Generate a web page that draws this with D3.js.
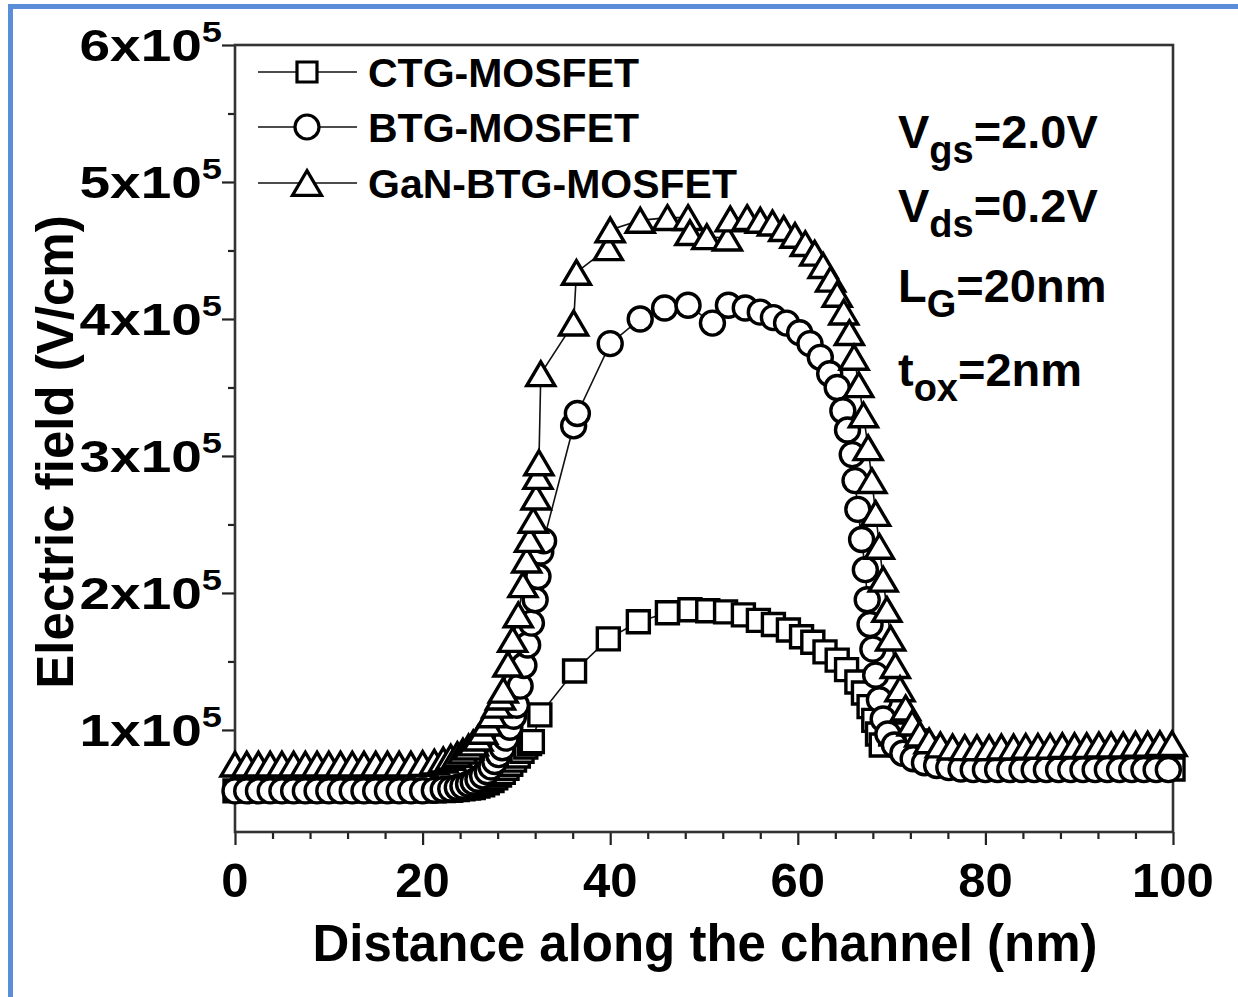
<!DOCTYPE html>
<html>
<head>
<meta charset="utf-8">
<script src="https://cdn.jsdelivr.net/npm/d3@7"></script>
<style>
  body { margin: 0; background: #fff; }
  svg { display: block; }
  text { font-family: "Liberation Sans", Arial, Helvetica, sans-serif; font-weight: bold; fill: #000; }
</style>
</head>
<body>
<svg id="chart" width="1238" height="997"></svg>
<script>
// Electric field along the channel, in units of 1e5 V/cm, versus distance (nm)

const ctgX = [0, 1.25, 2.5, 3.75, 5, 6.25, 7.5, 8.75, 10, 11.25, 12.5, 13.75, 15, 16.25, 17.5, 18.75, 20,
  21.25, 22.2, 23, 23.7, 24.3, 24.9, 25.4, 25.9, 26.4, 26.9, 27.4, 27.8, 28.2, 28.6, 29, 29.4, 29.8, 30.2, 30.6, 31, 31.4, 31.7,
  32.5, 36.2, 39.8, 43.0, 46.1, 48.5, 50.4, 52.3, 54.2, 55.8, 57.4, 59.0, 60.4, 61.6, 62.9, 64.2,
  65.2, 66.3, 67.0, 67.6, 68.1, 68.5, 68.9, 69.9, 71.3, 72.6, 74.0, 75.3, 76.6, 78.0, 79.3,
  80.6, 81.9, 83.2, 84.5, 85.8, 87.1, 88.4, 89.7, 91.0, 92.3, 93.6, 94.9, 96.2, 97.5, 98.8, 100];
const ctgY = [0.555, 0.555, 0.555, 0.555, 0.555, 0.555, 0.555, 0.555, 0.555, 0.555, 0.555, 0.555, 0.555, 0.555, 0.555, 0.555, 0.555,
  0.555, 0.557, 0.56, 0.565, 0.57, 0.575, 0.58, 0.59, 0.60, 0.615, 0.63, 0.65, 0.67, 0.69, 0.72, 0.75, 0.78, 0.81, 0.845, 0.875, 0.90, 0.915,
  1.11, 1.43, 1.665, 1.79, 1.855, 1.877, 1.87, 1.862, 1.84, 1.80, 1.77, 1.73, 1.68, 1.64, 1.57, 1.51,
  1.44, 1.35, 1.27, 1.17, 1.07, 0.97, 0.89, 0.97, 0.97, 0.92, 0.86, 0.81, 0.77, 0.745, 0.73,
  0.72, 0.715, 0.715, 0.715, 0.715, 0.715, 0.715, 0.715, 0.715, 0.715, 0.715, 0.715, 0.715, 0.715, 0.715, 0.715];

const btgX = [0, 1.25, 2.5, 3.75, 5, 6.25, 7.5, 8.75, 10, 11.25, 12.5, 13.75, 15, 16.25, 17.5, 18.75, 20,
  21.25, 22.2, 23, 23.7, 24.3, 24.9, 25.4, 25.9, 26.4, 26.9, 27.3, 27.7, 28.1, 28.5, 28.9, 29.3, 29.7, 30, 30.4, 30.8, 31.2, 31.6, 32, 32.3, 32.6, 32.9,
  36.1, 36.5, 40.0, 43.2, 45.8, 48.3, 50.9, 52.6, 54.4, 56.0, 57.4, 58.8, 60.2, 61.3, 62.4, 63.4, 64.2,
  64.8, 65.3, 65.8, 66.1, 66.4, 66.8, 67.2, 67.4, 67.7, 68.0, 68.3, 68.7, 69.1, 69.6, 70.3, 71.2, 72.3, 73.5,
  74.8, 76.1, 77.4, 78.7, 80.0, 81.3, 82.6, 83.9, 85.2, 86.5, 87.8, 89.1, 90.4, 91.7, 93.0, 94.3, 95.6, 96.9, 98.2, 99.5];
const btgY = [0.555, 0.555, 0.555, 0.555, 0.555, 0.555, 0.555, 0.555, 0.555, 0.555, 0.555, 0.555, 0.555, 0.555, 0.555, 0.555, 0.555,
  0.56, 0.565, 0.57, 0.58, 0.59, 0.605, 0.62, 0.64, 0.665, 0.695, 0.73, 0.77, 0.82, 0.87, 0.94, 1.02, 1.10, 1.18, 1.32, 1.47, 1.62, 1.78, 1.95, 2.12, 2.30, 2.38,
  3.22, 3.31, 3.82, 4.00, 4.08, 4.10, 3.97, 4.10, 4.08, 4.05, 4.01, 3.97, 3.90, 3.82, 3.72, 3.60, 3.50,
  3.33, 3.19, 3.01, 2.82, 2.61, 2.39, 2.17, 1.95, 1.77, 1.59, 1.40, 1.22, 1.08, 0.97, 0.89, 0.83, 0.79, 0.76,
  0.74, 0.725, 0.715, 0.71, 0.71, 0.71, 0.71, 0.71, 0.71, 0.71, 0.71, 0.71, 0.71, 0.71, 0.71, 0.71, 0.71, 0.71, 0.71, 0.71];

const ganX = [0, 1.25, 2.5, 3.75, 5, 6.25, 7.5, 8.75, 10, 11.25, 12.5, 13.75, 15, 16.25, 17.5, 18.75, 20,
  21.25, 22.2, 23, 23.7, 24.3, 24.9, 25.4, 25.9, 26.4, 26.9, 27.4, 27.9, 28.3, 28.6, 29.1, 29.6, 30.2, 30.7, 31.1, 31.4, 31.8, 32.1, 32.3, 32.4,
  32.6, 36.1, 36.4, 39.8, 40.0, 43.2, 46.1, 48.3, 48.5, 50.3, 52.5, 52.8, 54.6, 56.0, 57.3, 58.5, 59.7,
  60.8, 61.8, 62.7, 63.5, 64.2, 64.9, 65.5, 66.0, 66.5, 67.0, 67.5, 67.9, 68.3, 68.7, 69.1, 69.5, 69.9,
  70.4, 70.9, 71.5, 72.2, 73.0, 74.0, 75.2, 76.5, 77.8, 79.1,
  80.4, 81.7, 83.0, 84.3, 85.6, 86.9, 88.2, 89.5, 90.8, 92.1, 93.4, 94.7, 96.0, 97.3, 98.6, 99.9];
const ganY = [0.75, 0.75, 0.75, 0.75, 0.75, 0.75, 0.75, 0.75, 0.75, 0.75, 0.75, 0.75, 0.75, 0.75, 0.75, 0.75, 0.755,
  0.765, 0.78, 0.80, 0.82, 0.845, 0.875, 0.905, 0.94, 0.99, 1.05, 1.11, 1.18, 1.24, 1.29, 1.48, 1.66, 1.84, 2.06, 2.24, 2.39, 2.53, 2.70, 2.85, 2.95,
  3.60, 3.97, 4.34, 4.52, 4.65, 4.72, 4.74, 4.74, 4.63, 4.60, 4.59, 4.73, 4.74, 4.72, 4.70, 4.66, 4.61,
  4.55, 4.48, 4.39, 4.29, 4.18, 4.05, 3.90, 3.72, 3.52, 3.30, 3.06, 2.82, 2.58, 2.34, 2.10, 1.88, 1.67,
  1.47, 1.30, 1.16, 1.05, 0.97, 0.92, 0.89, 0.875, 0.87, 0.87,
  0.87, 0.875, 0.875, 0.88, 0.88, 0.88, 0.885, 0.885, 0.885, 0.89, 0.89, 0.89, 0.895, 0.895, 0.9, 0.9];

const seriesNames = ["CTG-MOSFET", "BTG-MOSFET", "GaN-BTG-MOSFET"];
const seriesShapes = ["square", "circle", "triangle"];

const xMajorTicks = [0, 20, 40, 60, 80, 100];
const xMinorTicks = [4, 8, 12, 16, 24, 28, 32, 36, 44, 48, 52, 56, 64, 68, 72, 76, 84, 88, 92, 96];
const yMajorTicks = [1, 2, 3, 4, 5, 6];
const yMinorTicks = [0.5, 1.5, 2.5, 3.5, 4.5, 5.5];
const yTickMantissa = ["1x10", "2x10", "3x10", "4x10", "5x10", "6x10"];
const yTickExponent = "5";

const xTitle = "Distance along the channel (nm)";
const yTitle = "Electric field (V/cm)";

const conditions = [
  { main: "V", sub: "gs", rest: "=2.0V" },
  { main: "V", sub: "ds", rest: "=0.2V" },
  { main: "L", sub: "G", rest: "=20nm" },
  { main: "t", sub: "ox", rest: "=2nm" }
];

// ---- layout ----
const svg = d3.select("#chart");
const plot = { left: 235, right: 1173, top: 45, bottom: 832 };

const x = d3.scaleLinear().domain([0, 100]).range([plot.left, plot.right]);
const y = d3.scaleLinear().domain([0.255, 6]).range([plot.bottom, plot.top]);

// page border accent (top and left edges)
svg.append("rect").attr("x", 8).attr("y", 4).attr("width", 1230).attr("height", 5).attr("fill", "#5a8ed8");
svg.append("rect").attr("x", 8).attr("y", 4).attr("width", 5).attr("height", 993).attr("fill", "#5a8ed8");

// ---- axes ----
const axisColor = "#222";
function styleAxis(g) {
  g.select(".domain").remove();
  g.selectAll(".tick line").attr("stroke", axisColor).attr("stroke-width", 2.2);
  g.selectAll(".tick text").remove();
}

svg.append("g").attr("transform", `translate(0,${plot.bottom})`)
  .call(d3.axisBottom(x).tickValues(xMajorTicks).tickSize(13).tickSizeOuter(0)).call(styleAxis);
svg.append("g").attr("transform", `translate(0,${plot.bottom})`)
  .call(d3.axisBottom(x).tickValues(xMinorTicks).tickSize(7).tickSizeOuter(0)).call(styleAxis);
svg.append("g").attr("transform", `translate(${plot.left},0)`)
  .call(d3.axisLeft(y).tickValues(yMajorTicks).tickSize(13).tickSizeOuter(0)).call(styleAxis);
svg.append("g").attr("transform", `translate(${plot.left},0)`)
  .call(d3.axisLeft(y).tickValues(yMinorTicks).tickSize(7).tickSizeOuter(0)).call(styleAxis);

// frame
svg.append("rect")
  .attr("x", plot.left).attr("y", plot.top)
  .attr("width", plot.right - plot.left).attr("height", plot.bottom - plot.top)
  .attr("fill", "none").attr("stroke", "#333").attr("stroke-width", 2.6);

// x tick labels
svg.append("g").selectAll("text").data(xMajorTicks).join("text")
  .attr("x", d => x(d)).attr("y", 897)
  .attr("text-anchor", "middle").attr("font-size", 49)
  .text(d => d);

// y tick labels: wide mantissa with a superscript exponent
const yl = svg.append("g").selectAll("g").data(yMajorTicks).join("g")
  .attr("transform", d => `translate(222,${y(d) + 16}) scale(1.25,1)`)
  .append("text").attr("x", 0).attr("y", 0)
  .attr("text-anchor", "end").attr("font-size", 44);
yl.append("tspan").text((d, i) => yTickMantissa[i]);
yl.append("tspan").attr("font-size", 29).attr("dy", -19).text(yTickExponent);

// axis titles
svg.append("text").attr("x", 705).attr("y", 961).attr("text-anchor", "middle")
  .attr("font-size", 51).text(xTitle);
svg.append("text").attr("transform", "translate(73,452) rotate(-90)").attr("text-anchor", "middle")
  .attr("font-size", 51).text(yTitle);

// ---- markers ----
const mk = {
  square: s => `M${-s / 2},${-s / 2}H${s / 2}V${s / 2}H${-s / 2}Z`,
  circle: s => `M${s / 2},0A${s / 2},${s / 2} 0 1 1 ${-s / 2},0A${s / 2},${s / 2} 0 1 1 ${s / 2},0Z`,
  triangle: s => { const w = s * 1.12, h = s * 0.95; return `M0,${-h / 2}L${w / 2},${h / 2}L${-w / 2},${h / 2}Z`; }
};
const markerSize = { square: 22, circle: 24, triangle: 25 };

const seriesData = [
  ctgX.map((v, i) => [v, ctgY[i]]),
  btgX.map((v, i) => [v, btgY[i]]),
  ganX.map((v, i) => [v, ganY[i]])
];

const line = d3.line().x(d => x(d[0])).y(d => y(d[1]));
const plotArea = svg.append("g");

seriesData.forEach((data, k) => {
  const shape = seriesShapes[k];
  const g = plotArea.append("g");
  g.append("path").datum(data).attr("d", line)
    .attr("fill", "none").attr("stroke", "#111").attr("stroke-width", 1.6);
  g.selectAll("path.m").data(data).join("path").attr("class", "m")
    .attr("transform", d => `translate(${x(d[0])},${y(d[1])})`)
    .attr("d", mk[shape](markerSize[shape]))
    .attr("fill", "#fff").attr("stroke", "#000").attr("stroke-width", 3.4);
});

// ---- legend ----
const legendRows = [72, 127, 183];
const lg = svg.append("g");
seriesNames.forEach((name, k) => {
  const shape = seriesShapes[k];
  const yy = legendRows[k];
  lg.append("line").attr("x1", 258).attr("x2", 357).attr("y1", yy).attr("y2", yy)
    .attr("stroke", "#111").attr("stroke-width", 1.6);
  lg.append("path").attr("transform", `translate(307,${yy})`)
    .attr("d", mk[shape](shape === "square" ? 20 : shape === "circle" ? 24 : 26))
    .attr("fill", "#fff").attr("stroke", "#000").attr("stroke-width", 3.2);
  lg.append("text").attr("x", 368).attr("y", yy + 15).attr("font-size", 41).text(name);
});

// ---- operating conditions ----
const condBaselines = [148, 222, 302, 386];
conditions.forEach((c, i) => {
  const t = svg.append("text").attr("x", 898).attr("y", condBaselines[i]).attr("font-size", 47);
  t.append("tspan").text(c.main);
  t.append("tspan").attr("font-size", 38).attr("dy", 15).text(c.sub);
  t.append("tspan").attr("dy", -15).text(c.rest);
});
</script>
</body>
</html>
